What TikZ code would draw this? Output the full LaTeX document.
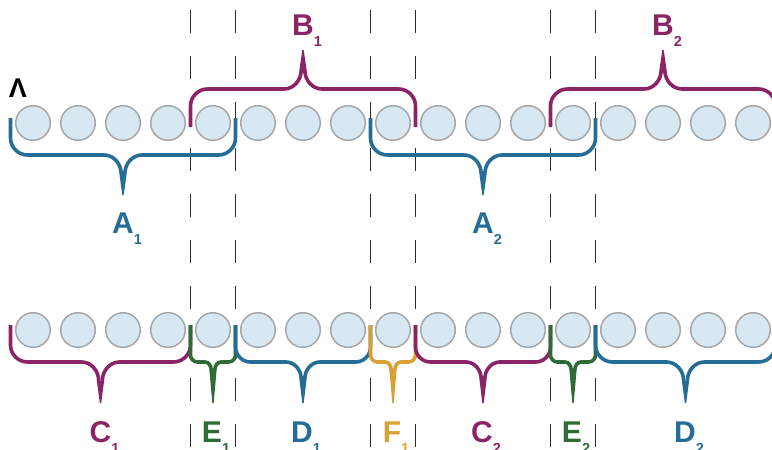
\documentclass[tikz,border=0pt]{standalone}
\usepackage{fontspec}
\setmainfont{Liberation Sans}
\definecolor{cblue}{HTML}{256D96}
\definecolor{cmag}{HTML}{8B2467}
\definecolor{cgreen}{HTML}{2E6B36}
\definecolor{cgold}{HTML}{D9A035}
\definecolor{ballfill}{HTML}{D7E8F3}
\definecolor{ballline}{HTML}{A6A6A6}
\definecolor{sepcol}{HTML}{2A2A2A}
\tikzset{
  ball/.style={circle, draw=ballline, fill=ballfill, line width=1.5pt, minimum size=34.6pt, inner sep=0pt},
  sepline/.style={draw=sepcol, line width=1.2pt, dash pattern=on 23pt off 23pt},
  bracestroke/.style={line width=3.6pt},
  lbl/.style={anchor=base, inner sep=0pt, font=\fontsize{30}{30}\selectfont\bfseries},
}
\newcommand{\lab}[2]{#1\rlap{\raisebox{-11pt}{\fontsize{14.5}{14.5}\selectfont #2}}}
% #1 xL, #2 xR, #3 y ends, #4 y horizontal, #5 y tip, #6 end radius, #7 cusp half width, #8 colour
\newcommand{\mybrace}[8]{%
  \pgfmathsetmacro{\xm}{(#1+#2)/2}%
  \pgfmathsetmacro{\sg}{sign(#4-#3)}%
  \pgfmathsetmacro{\yb}{#4-\sg*#6}%
  \pgfmathsetmacro{\yc}{#4-\sg*0.45*#6}%
  \pgfmathsetmacro{\ym}{#4+\sg*#7}%
  \pgfmathsetmacro{\ymc}{\ym-\sg*0.55*#7}%
  \pgfmathsetmacro{\hx}{0.55*(#7-1.8)}%
  \draw[bracestroke, draw=#8] (#1,#3) -- (#1,\yb) .. controls (#1,\yc) and (#1+0.45*#6,#4) .. (#1+#6,#4)
     -- (\xm-#7,#4) .. controls (\xm-#7+\hx,#4) and (\xm-1.8,\ymc) .. (\xm-1.8,\ym);
  \draw[bracestroke, draw=#8] (\xm+1.8,\ym) .. controls (\xm+1.8,\ymc) and (\xm+#7-\hx,#4) .. (\xm+#7,#4)
     -- (#2-#6,#4) .. controls (#2-0.45*#6,#4) and (#2,\yc) .. (#2,\yb) -- (#2,#3);
  \fill[#8] (\xm-3.6,\ym) -- (\xm-0.7,#5) -- (\xm+0.7,#5) -- (\xm+3.6,\ym) -- cycle;
}
\begin{document}
\begin{tikzpicture}[x=1pt,y=-1pt]
\useasboundingbox (0,0) rectangle (772,450);
\clip (0,0) rectangle (772,450);
% separators
\foreach \sx in {190.5,235.5,370.5,415.5,550.5,595.5} {
  \draw[sepline] (\sx,10) -- (\sx,450);
}
% balls
\foreach \i in {1,...,17} {
  \pgfmathsetmacro{\cx}{33+45*(\i-1)}
  \node[ball] (t\i) at (\cx,123) {};
  \node[ball] (b\i) at (\cx,330) {};
}
% top braces
\mybrace{10.5}{235.5}{118}{155}{195}{17}{19}{cblue}
\mybrace{370.5}{595.5}{118}{155}{195}{17}{19}{cblue}
\mybrace{190.5}{415.5}{127}{89}{50}{17}{19}{cmag}
\mybrace{550.5}{775.5}{127}{89}{50}{17}{19}{cmag}
% bottom braces
\mybrace{10.5}{190.5}{325}{362}{403}{17}{19}{cmag}
\mybrace{190.5}{235.5}{325}{362}{403}{7}{8}{cgreen}
\mybrace{235.5}{370.5}{325}{362}{403}{15}{17}{cblue}
\mybrace{370.5}{415.5}{325}{362}{403}{7}{8}{cgold}
\mybrace{415.5}{550.5}{325}{362}{403}{15}{17}{cmag}
\mybrace{550.5}{595.5}{325}{362}{403}{7}{8}{cgreen}
\mybrace{595.5}{775.5}{325}{362}{403}{17}{19}{cblue}
% labels
\node[anchor=base, inner sep=0pt, font=\fontsize{27}{27}\selectfont\bfseries] (lam) at (18,97) {Λ};
\node[lbl, text=cblue] (A1) at (123,233) {\lab{A}{1}};
\node[lbl, text=cblue] (A2) at (483,233) {\lab{A}{2}};
\node[lbl, text=cmag] (B1) at (303,35) {\lab{B}{1}};
\node[lbl, text=cmag] (B2) at (663,35) {\lab{B}{2}};
\node[lbl, text=cmag] (C1) at (100.5,442) {\lab{C}{1}};
\node[lbl, text=cgreen] (E1) at (212,442) {\lab{E}{1}};
\node[lbl, text=cblue] (D1) at (302,442) {\lab{D}{1}};
\node[lbl, text=cgold] (F1) at (392,442) {\lab{F}{1}};
\node[lbl, text=cmag] (C2) at (482,442) {\lab{C}{2}};
\node[lbl, text=cgreen] (E2) at (572,442) {\lab{E}{2}};
\node[lbl, text=cblue] (D2) at (685,442) {\lab{D}{2}};
\end{tikzpicture}
\end{document}
